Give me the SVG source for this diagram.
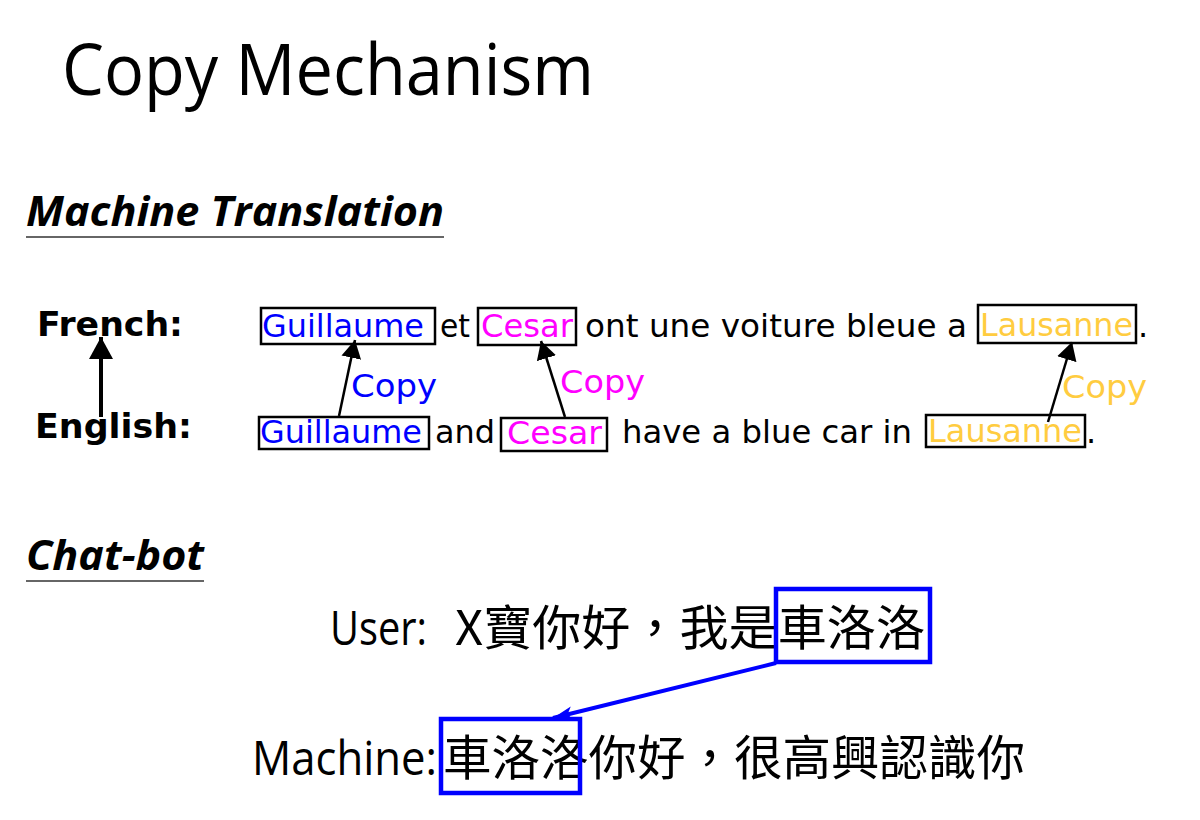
<svg xmlns="http://www.w3.org/2000/svg" width="1200" height="820" viewBox="0 0 1200 820">
<style>
.title{font-family:"Open Sans","Liberation Sans",sans-serif;font-weight:400;font-size:72px;fill:#000}
.head{font-family:"Open Sans","Liberation Sans",sans-serif;font-weight:700;font-style:italic;font-size:42px;fill:#000}
.lang{font-family:"DejaVu Sans",sans-serif;font-weight:700;font-size:33px;fill:#000}
.w{font-family:"DejaVu Sans",sans-serif;font-size:32px;fill:#000}
.blue{fill:#0000ff}
.mag{fill:#ff00ff}
.yel{fill:#ffcc40}
.box{fill:none;stroke:#000;stroke-width:2.5}
.bbox{fill:none;stroke:#0000ff;stroke-width:4.5}
.chat{font-family:"Open Sans","Liberation Sans","Noto Sans CJK TC",sans-serif;font-size:48px;fill:#000}
.cjk{font-family:"Noto Sans CJK TC",sans-serif;font-size:48px;fill:#000}
.conn{stroke:#000;stroke-width:2.5;fill:none}
.uline{stroke:#333;stroke-width:1.6}
</style>
<defs>
<marker id="ah" markerUnits="userSpaceOnUse" markerWidth="20" markerHeight="22" refX="18" refY="10" orient="auto">
<path d="M0,0 L18,10 L0,20 Z" fill="#000"/>
</marker>
<marker id="ahL" markerUnits="userSpaceOnUse" markerWidth="24" markerHeight="26" refX="22" refY="12" orient="auto">
<path d="M0,0 L22,12 L0,24 Z" fill="#000"/>
</marker>
<marker id="bh" markerUnits="userSpaceOnUse" markerWidth="22" markerHeight="16" refX="20" refY="7" orient="auto">
<path d="M0,0 L20,7 L0,14 L5,7 Z" fill="#0000ff"/>
</marker>
</defs>

<g id="title"><text class="title" x="62" y="95" textLength="532" lengthAdjust="spacingAndGlyphs">Copy Mechanism</text></g>

<g id="mt-heading">
<text class="head" x="26" y="226" textLength="418" lengthAdjust="spacingAndGlyphs">Machine Translation</text>
<line class="uline" x1="26" y1="237" x2="444" y2="237"/>
</g>

<g id="french-label"><text class="lang" x="37" y="336" textLength="146" lengthAdjust="spacingAndGlyphs">French:</text></g>
<g id="english-label"><text class="lang" x="35" y="438" textLength="157" lengthAdjust="spacingAndGlyphs">English:</text></g>

<g id="french">
<rect class="box" x="261" y="308" width="174" height="36"/>
<text class="w blue" x="262" y="337" textLength="162" lengthAdjust="spacingAndGlyphs">Guillaume</text>
<text class="w" x="440" y="337" textLength="30" lengthAdjust="spacingAndGlyphs">et</text>
<rect class="box" x="478" y="308" width="98" height="37"/>
<text class="w mag" x="481" y="337" textLength="92" lengthAdjust="spacingAndGlyphs">Cesar</text>
<text class="w" x="585" y="337" textLength="382" lengthAdjust="spacingAndGlyphs">ont une voiture bleue a</text>
<rect class="box" x="978" y="305" width="158" height="38"/>
<text class="w yel" x="980" y="336" textLength="153" lengthAdjust="spacingAndGlyphs">Lausanne</text>
<text class="w" x="1138" y="337">.</text>
</g>

<g id="english">
<rect class="box" x="259" y="417" width="170" height="32"/>
<text class="w blue" x="260" y="443" textLength="162" lengthAdjust="spacingAndGlyphs">Guillaume</text>
<text class="w" x="435" y="443" textLength="60" lengthAdjust="spacingAndGlyphs">and</text>
<rect class="box" x="501" y="418" width="106" height="33"/>
<text class="w mag" x="507" y="444" textLength="95" lengthAdjust="spacingAndGlyphs">Cesar</text>
<text class="w" x="622" y="443" textLength="290" lengthAdjust="spacingAndGlyphs">have a blue car in</text>
<rect class="box" x="926" y="415" width="159" height="32"/>
<text class="w yel" x="928" y="442" textLength="154" lengthAdjust="spacingAndGlyphs">Lausanne</text>
<text class="w" x="1086" y="443">.</text>
</g>

<g id="copy-labels">
<text class="w blue" x="351" y="397" textLength="86" lengthAdjust="spacingAndGlyphs">Copy</text>
<text class="w mag" x="560" y="393" textLength="85" lengthAdjust="spacingAndGlyphs">Copy</text>
<text class="w yel" x="1062" y="398" textLength="85" lengthAdjust="spacingAndGlyphs">Copy</text>
</g>

<g id="chatbot-heading">
<text class="head" x="26" y="570" textLength="178" lengthAdjust="spacingAndGlyphs">Chat-bot</text>
<line class="uline" x1="26" y1="581" x2="204" y2="581"/>
</g>

<g id="user">
<text class="chat" x="330" y="645" textLength="97" lengthAdjust="spacingAndGlyphs">User:</text>
<text class="cjk" x="455" y="645" textLength="470" lengthAdjust="spacingAndGlyphs">X寶你好，我是車洛洛</text>
<rect class="bbox" x="776" y="589" width="154" height="73"/>
</g>

<g id="machine">
<text class="chat" x="252" y="775" textLength="185" lengthAdjust="spacingAndGlyphs">Machine:</text>
<text class="cjk" x="443" y="775" textLength="582" lengthAdjust="spacingAndGlyphs">車洛洛你好，很高興認識你</text>
<rect class="bbox" x="441" y="719" width="139" height="74"/>
</g>

<g id="connectors">
<line x1="101" y1="417" x2="101" y2="337" stroke="#000" stroke-width="4" marker-end="url(#ahL)"/>
<line class="conn" x1="339" y1="416" x2="355" y2="340" marker-end="url(#ah)"/>
<line class="conn" x1="565" y1="417" x2="541" y2="341" marker-end="url(#ah)"/>
<line class="conn" x1="1048" y1="422" x2="1072" y2="342" marker-end="url(#ah)"/>
<line x1="776" y1="663" x2="553" y2="718" stroke="#0000ff" stroke-width="4" marker-end="url(#bh)"/>
</g>
</svg>
